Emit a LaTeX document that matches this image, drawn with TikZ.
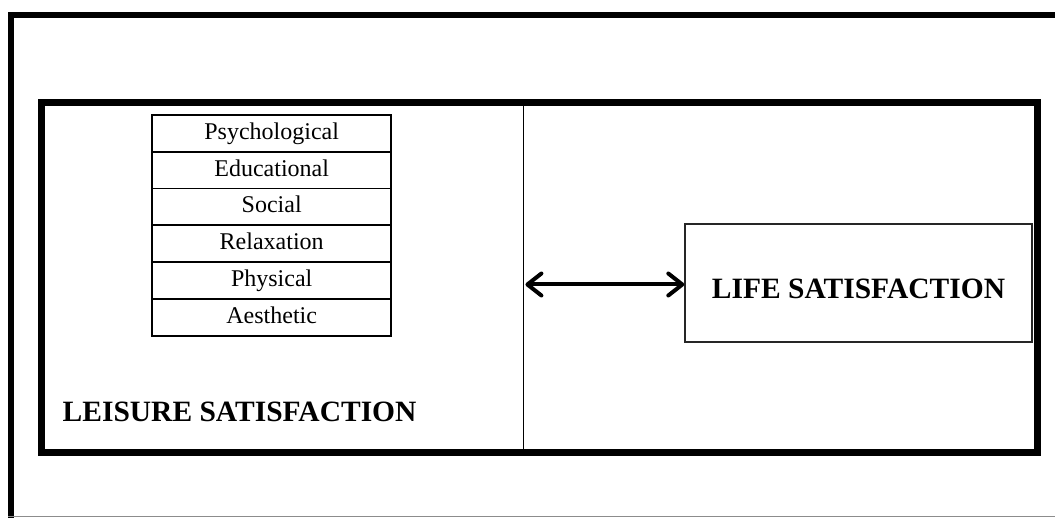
\documentclass[tikz,border=0pt]{standalone}
\usepackage{fontspec}
\setmainfont{Liberation Serif}
\usetikzlibrary{arrows.meta}
\tikzset{
  cell/.style={draw=black, line width=1.8pt, minimum width=238.7pt, minimum height=36.8pt,
    inner sep=0pt, text height=17pt, text depth=5pt, font=\fontsize{24}{26}\selectfont},
  lifebox/.style={draw=black!85, line width=1.4pt, minimum width=347pt, minimum height=118pt,
    inner sep=0pt, text height=31pt, text depth=0pt, font=\bfseries\fontsize{29.5}{32}\selectfont},
  titletext/.style={inner sep=0pt, font=\bfseries\fontsize{29.5}{32}\selectfont},
  panel/.style={inner sep=0pt, draw=none},
  thickframe/.style={line width=7pt},
  barb/.tip={Straight Barb[length=14pt,width=22pt,round,line width=4pt]},
  twoway/.style={line width=4pt, barb-barb}
}
\begin{document}
\begin{tikzpicture}[x=1pt,y=-1pt]
\useasboundingbox (0,0) rectangle (1055,518);
% outer frame
\coordinate (oTL) at (11,15);
\coordinate (oTR) at (1055,15);
\coordinate (oBL) at (11,518);
\coordinate (oBR) at (1055,516);
\draw[line width=6pt] (oTR) -- (oTL) -- (oBL);
\draw[black!45, line width=1pt] (8,516) -- (oBR);
% inner thick frame
\draw[thickframe] (41,102.5) rectangle (1037.5,452.5);
% left panel (leisure)
\node[panel, minimum width=482.7pt, minimum height=350pt] (leisure) at (282.35,277.5) {};
\draw[line width=1pt] (leisure.north east) -- (leisure.south east);
% table of facets
\node[cell] (c1) at (271.7,133.4) {Psychological};
\node[cell] (c2) at (271.7,170.2) {Educational};
\node[cell] (c3) at (271.7,207.0) {Social};
\node[cell] (c4) at (271.7,243.8) {Relaxation};
\node[cell] (c5) at (271.7,280.6) {Physical};
\node[cell] (c6) at (271.7,317.4) {Aesthetic};
% leisure title
\node[titletext, anchor=base west] (ltitle) at (62.5,421.5) {LEISURE SATISFACTION};
% life satisfaction box
\node[lifebox] (life) at (858.5,283) {LIFE SATISFACTION};
% two-way arrow
\draw[twoway] (life.west -| leisure.east) ++(1.5,1.5) coordinate (aL) -- (life.west |- aL);
\end{tikzpicture}
\end{document}
